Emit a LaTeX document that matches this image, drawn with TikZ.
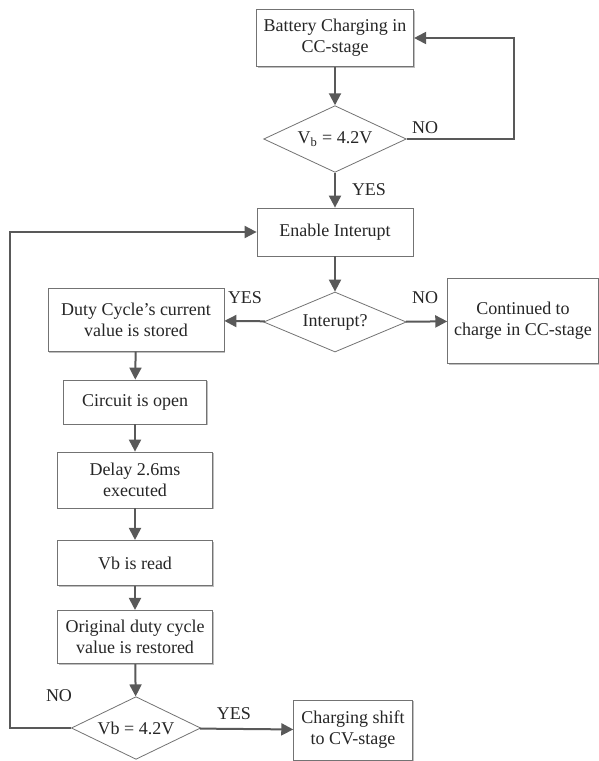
\documentclass[tikz,border=0pt]{standalone}
\usepackage{fontspec}
\setmainfont{Liberation Serif}
\usetikzlibrary{shapes.geometric,arrows.meta,shadows}
\tikzset{b/.style={draw=black!55,line width=0.6pt,fill=white,align=center,inner sep=2pt,drop shadow={shadow xshift=1pt,shadow yshift=-1pt,fill=black!25,opacity=1}},
 d/.style={draw=black!55,line width=0.6pt,diamond,aspect=2.2,fill=white,align=center,inner sep=0pt},
 ar/.style={draw=black!65,line width=1.5pt,-{Triangle[length=9pt,width=9pt]}},lb/.style={inner sep=0pt}}

\begin{document}
\begin{tikzpicture}[x=0.75pt,y=-0.75pt,font=\fontsize{13.5}{15.8}\selectfont,text=black!85]
\useasboundingbox (0,0) rectangle (599,761);
% CC stage
\node[b,minimum width=118pt,minimum height=43pt](bat)at(335,38){Battery Charging in\\CC-stage};
\node[d,minimum width=107pt,minimum height=50pt](d1)at(335,139){V\textsubscript{b} = 4.2V};
\node[b,minimum width=117pt,minimum height=36pt](en)at(335,232){Enable Interupt};
\node[d,minimum width=107pt,minimum height=45pt](d2)at(335,322){Interupt?};
\node[b,minimum width=132pt,minimum height=47pt](duty)at(136,320){Duty Cycle’s current\\value is stored};
\node[b,minimum width=113pt,minimum height=64pt](cont)at(523,321){Continued to\\charge in CC-stage};
% measuring Vb
\node[b,minimum width=107pt,minimum height=33pt](circ)at(135,402){Circuit is open};
\node[b,minimum width=116pt,minimum height=42pt](dly)at(135,480){Delay 2.6ms\\executed};
\node[b,minimum width=116pt,minimum height=34pt](rd)at(135,563){Vb is read};
\node[b,minimum width=116pt,minimum height=40pt](orig)at(135,637){Original duty cycle\\value is restored};
\node[d,aspect=2,minimum width=97pt,minimum height=47pt](d3)at(136,728){Vb = 4.2V};
\node[b,minimum width=89pt,minimum height=45pt](cv)at(353,730){Charging shift\\to CV-stage};
\coordinate(rx)at(514,0);\coordinate(lx)at(10,0);
\draw[ar](bat)--(d1);\draw[ar](d1.east)--(d1.east-|rx)|-(bat.east);\draw[ar](d1)--(en);
\draw[ar](en)--(d2);\draw[ar](d2)--(duty);\draw[ar](d2)--(cont);
\draw[ar](duty)--(circ);\draw[ar](circ)--(dly);\draw[ar](dly)--(rd);\draw[ar](rd)--(orig);\draw[ar](orig)--(d3);
\draw[ar](d3)--(cv);\draw[ar](d3.west)--(d3.west-|lx)|-(en.west);
\node[lb](n1)at(425,128){NO};\node[lb](y1)at(369,190){YES};
\node[lb](y2)at(245,298){YES};\node[lb](n2)at(425,298){NO};
\node[lb](n3)at(59,696){NO};\node[lb](y3)at(234,714){YES};
\end{tikzpicture}
\end{document}
